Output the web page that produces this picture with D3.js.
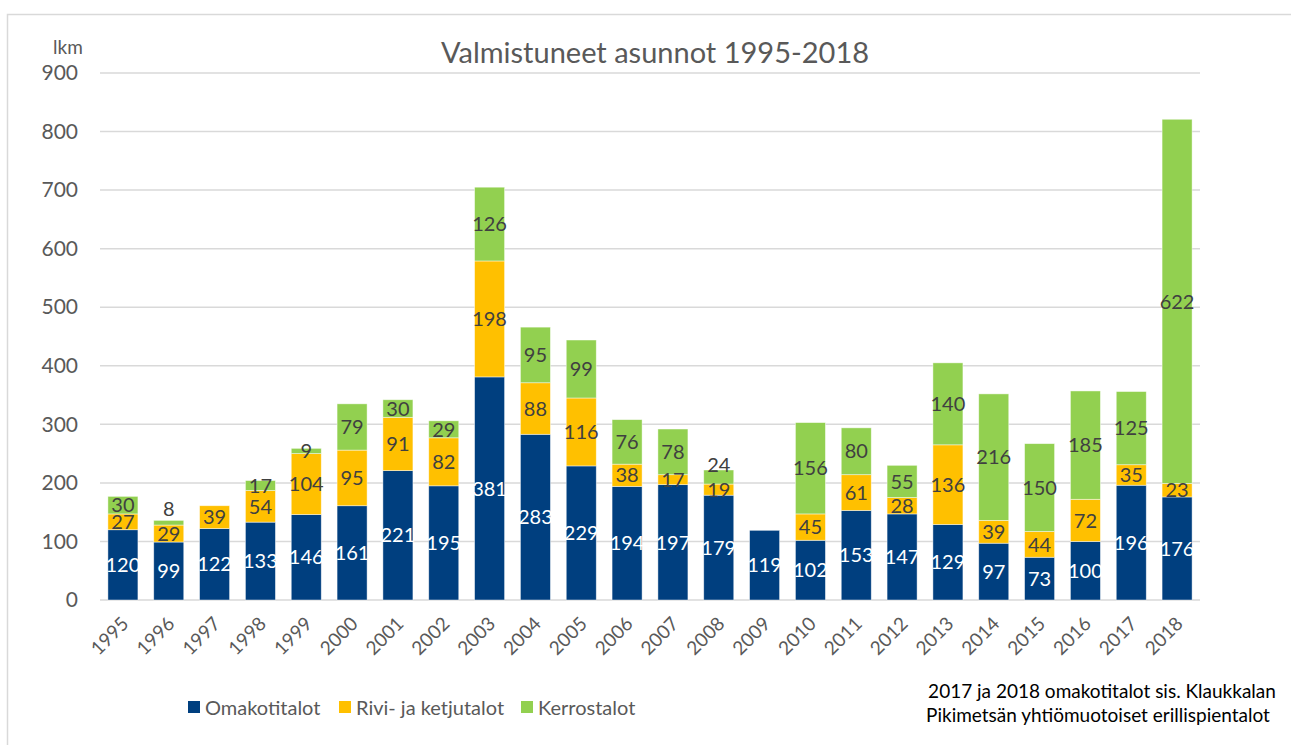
<!DOCTYPE html>
<html>
<head>
<meta charset="utf-8">
<title>Valmistuneet asunnot 1995-2018</title>
<style>
  body { margin: 0; background: #fff; }
  text { font-family: Lato, "Open Sans", sans-serif; }
</style>
</head>
<body>
<script src="https://cdn.jsdelivr.net/npm/d3@7/dist/d3.min.js"></script>
<script>
  // data
  const years = ["1995","1996","1997","1998","1999","2000","2001","2002","2003","2004","2005","2006",
                 "2007","2008","2009","2010","2011","2012","2013","2014","2015","2016","2017","2018"];
  const omakoti = [120, 99, 122, 133, 146, 161, 221, 195, 381, 283, 229, 194, 197, 179, 119, 102, 153, 147, 129, 97, 73, 100, 196, 176];
  const rivi    = [27, 29, 39, 54, 104, 95, 91, 82, 198, 88, 116, 38, 17, 19, 0, 45, 61, 28, 136, 39, 44, 72, 35, 23];
  const kerros  = [30, 8, 0, 17, 9, 79, 30, 29, 126, 95, 99, 76, 78, 24, 0, 156, 80, 55, 140, 216, 150, 185, 125, 622];
  const seriesNames = ["Omakotitalot", "Rivi- ja ketjutalot", "Kerrostalot"];
  const colors = ["#003F7F", "#FFC000", "#92D050"];
  const labelColors = ["#ffffff", "#404040", "#404040"];
  const yTicks = [0, 100, 200, 300, 400, 500, 600, 700, 800, 900];

  const width = 1291, height = 745;
  const svg = d3.select("body").append("svg")
    .attr("width", width)
    .attr("height", height);

  // chart frame
  svg.append("rect")
    .attr("x", 7.5).attr("y", 14.5)
    .attr("width", 1400).attr("height", 900)
    .attr("fill", "none").attr("stroke", "#d9d9d9").attr("stroke-width", 1.5);

  const x = d3.scaleBand().domain(years).range([100, 1200]).paddingInner(0.345).paddingOuter(0.1725);
  const y = d3.scaleLinear().domain([0, 900]).range([600, 73]);

  // grid
  svg.append("g").selectAll("line")
    .data(yTicks).enter().append("line")
    .attr("x1", 100).attr("x2", 1200)
    .attr("y1", d => y(d)).attr("y2", d => y(d))
    .attr("stroke", "#d9d9d9").attr("stroke-width", 1.5);

  // y axis labels
  const yAxis = svg.append("g")
    .attr("transform", "translate(86,0)")
    .call(d3.axisLeft(y).tickValues(yTicks).tickSize(0).tickPadding(8));
  yAxis.select(".domain").remove();
  yAxis.selectAll("text")
    .attr("fill", "#595959").style("font-size", "21px").style("font-family", "Lato, sans-serif");

  svg.append("text")
    .attr("x", 68).attr("y", 54)
    .attr("text-anchor", "middle")
    .attr("fill", "#595959").style("font-size", "19px")
    .text("lkm");

  // stack
  const table = years.map((yr, i) => ({ year: yr, s0: omakoti[i], s1: rivi[i], s2: kerros[i] }));
  const stack = d3.stack().keys(["s0", "s1", "s2"])(table);

  const bars = svg.append("g");
  stack.forEach((layer, k) => {
    bars.selectAll(null)
      .data(layer.filter(d => d[1] > d[0]))
      .enter().append("rect")
      .attr("x", d => x(d.data.year))
      .attr("width", x.bandwidth())
      .attr("y", d => y(d[1]))
      .attr("height", d => y(d[0]) - y(d[1]))
      .attr("fill", colors[k])
      .attr("stroke", "#ffffff").attr("stroke-opacity", 0.6).attr("stroke-width", 0.75);
  });

  // data labels (centered in segment, pushed up if crowding the one below)
  const labels = svg.append("g");
  table.forEach((row, i) => {
    let prevY = null;
    stack.forEach((layer, k) => {
      const d = layer[i];
      const v = d[1] - d[0];
      if (v <= 0) return;
      let cy = (y(d[0]) + y(d[1])) / 2;
      if (prevY !== null && prevY - cy < 16) cy = prevY - 25;
      prevY = cy;
      labels.append("text")
        .attr("x", x(row.year) + x.bandwidth() / 2)
        .attr("y", cy)
        .attr("dy", "0.36em")
        .attr("text-anchor", "middle")
        .attr("fill", labelColors[k])
        .style("font-size", "20px")
        .text(v);
    });
  });

  // x axis labels
  const xAxis = svg.append("g")
    .attr("transform", "translate(0,600)")
    .call(d3.axisBottom(x).tickSize(0).tickPadding(0));
  xAxis.select(".domain").remove();
  xAxis.selectAll("text")
    .attr("fill", "#595959")
    .style("font-size", "19px").style("font-family", "Lato, sans-serif")
    .attr("text-anchor", "end")
    .attr("dy", "0")
    .attr("transform", "translate(7,25) rotate(-45)");

  // title
  svg.append("text")
    .attr("x", 655).attr("y", 63)
    .attr("text-anchor", "middle")
    .attr("fill", "#595959").style("font-size", "29px")
    .text("Valmistuneet asunnot 1995-2018");

  // legend
  const legendX = [188, 339, 521];
  const legend = svg.append("g").selectAll("g")
    .data(seriesNames).enter().append("g")
    .attr("transform", (d, i) => "translate(" + legendX[i] + ",701)");
  legend.append("rect").attr("width", 12).attr("height", 12)
    .attr("fill", (d, i) => colors[i]);
  legend.append("text").attr("x", 17).attr("y", 14)
    .attr("fill", "#595959").style("font-size", "20px")
    .text(d => d);

  // note
  const note = svg.append("text")
    .attr("text-anchor", "middle")
    .attr("fill", "#000").style("font-size", "19px");
  note.append("tspan").attr("x", 1102).attr("y", 698).text("2017 ja 2018 omakotitalot  sis. Klaukkalan");
  note.append("tspan").attr("x", 1098).attr("y", 722).text("Pikimetsän yhtiömuotoiset erillispientalot");
</script>
</body>
</html>
